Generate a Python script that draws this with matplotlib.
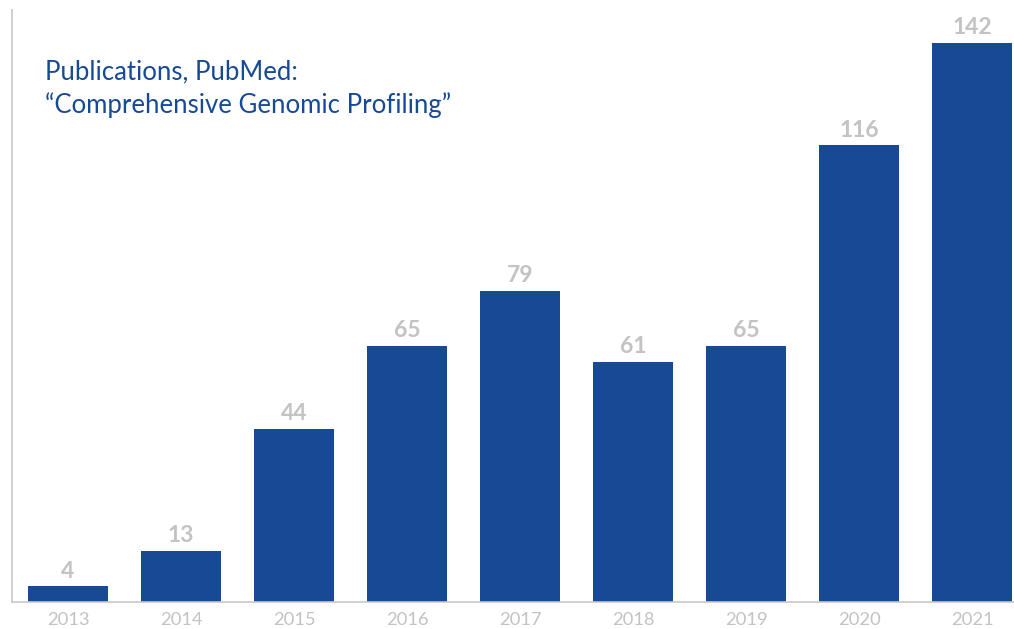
import matplotlib
matplotlib.use("Agg")
import matplotlib.pyplot as plt

years = ["2013", "2014", "2015", "2016", "2017", "2018", "2019", "2020", "2021"]
counts = [4, 13, 44, 65, 79, 61, 65, 116, 142]

BAR_COLOR = "#174a94"
LABEL_GRAY = "#c3c3c3"
AXIS_GRAY = "#c8c8c8"

plt.rcParams["font.family"] = ["Lato", "DejaVu Sans"]

fig = plt.figure(figsize=(10.14, 6.29), dpi=100)
# the plot area runs slightly past the right edge of the canvas
ax = fig.add_axes([11.5 / 1014, 1 - 602 / 629, 1017 / 1014, 592 / 629])

x = range(len(years))
ax.bar(x, counts, width=0.708, color=BAR_COLOR)
ax.set_xlim(-0.5, len(years) - 0.5)
ax.set_ylim(0, 150.4)

for xi, v in zip(x, counts):
    ax.text(xi, v + 1.2, str(v), ha="center", va="bottom",
            fontsize=16.5, fontweight="bold", color=LABEL_GRAY)

ax.set_xticks(list(x))
ax.set_xticklabels(years, fontsize=13.2, color=LABEL_GRAY)
ax.tick_params(axis="x", length=0, pad=7)
ax.set_yticks([])

for side in ("top", "right"):
    ax.spines[side].set_visible(False)
for side in ("left", "bottom"):
    ax.spines[side].set_color(AXIS_GRAY)
    ax.spines[side].set_linewidth(1.2)

fig.text(45 / 1014, 1 - 89 / 629,
         "Publications, PubMed:\n\u201cComprehensive Genomic Profiling\u201d",
         fontsize=18.5, color=BAR_COLOR, ha="left", va="center", linespacing=1.38)

fig.savefig("out.png", dpi=100)
